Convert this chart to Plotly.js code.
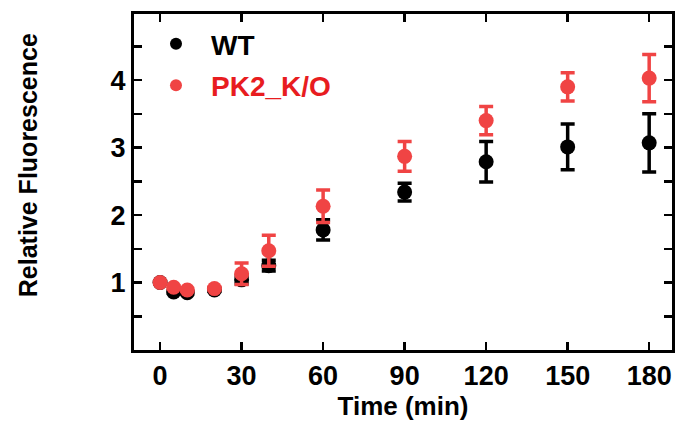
<!DOCTYPE html>
<html>
<head>
<meta charset="utf-8">
<script src="https://cdn.plot.ly/plotly-3.0.1.min.js"></script>
<style>html,body{margin:0;padding:0;background:#fff;}#chart{width:677px;height:427px;}</style>
</head>
<body>
<div id="chart"></div>
<script>
const time = [0, 5, 10, 20, 30, 40, 60, 90, 120, 150, 180];
const wtMean = [1.0, 0.86, 0.85, 0.89, 1.04, 1.25, 1.78, 2.34, 2.79, 3.01, 3.07];
const wtErr  = [0.02, 0.02, 0.02, 0.02, 0.06, 0.08, 0.15, 0.13, 0.30, 0.34, 0.43];
const koMean = [1.0, 0.93, 0.89, 0.91, 1.13, 1.47, 2.13, 2.87, 3.40, 3.90, 4.03];
const koErr  = [0.02, 0.02, 0.02, 0.02, 0.16, 0.23, 0.24, 0.22, 0.21, 0.21, 0.35];
const xTicks = [0, 30, 60, 90, 120, 150, 180];
const yTicks = [1, 2, 3, 4];

const RED = '#f04444';
const FONT = 'Liberation Sans, Arial, Helvetica, sans-serif';

const traces = [
  {
    x: time, y: wtMean, type: 'scatter', mode: 'markers', name: 'WT',
    legendgroup: 'a',
    marker: {color: '#000', size: 15},
    error_y: {type: 'data', array: wtErr, visible: true, color: '#000', thickness: 3.5, width: 7}
  },
  {
    x: time, y: koMean, type: 'scatter', mode: 'markers',
    name: '<span style="color:#e81c20">PK2_K/O</span>',
    legendgroup: 'b',
    marker: {color: RED, size: 15},
    error_y: {type: 'data', array: koErr, visible: true, color: RED, thickness: 3.5, width: 7}
  }
];

const layout = {
  width: 677, height: 427,
  margin: {l: 134, r: 5, t: 14, b: 77},
  paper_bgcolor: '#fff', plot_bgcolor: '#fff',
  font: {family: FONT, color: '#000', size: 24, weight: 'bold'},
  showlegend: true,
  legend: {
    x: 0.013, y: 0.985, xanchor: 'left', yanchor: 'top',
    bgcolor: 'rgba(0,0,0,0)', borderwidth: 0,
    font: {family: FONT, size: 28, color: '#000', weight: 'bold'},
    traceorder: 'grouped', tracegroupgap: 2, itemsizing: 'constant', itemwidth: 60
  },
  xaxis: {
    range: [-9.6, 188.4],
    tickvals: xTicks, ticktext: xTicks.map(String),
    ticks: 'inside', ticklen: 8, tickwidth: 2.5, tickcolor: '#000',
    showline: true, linewidth: 3, linecolor: '#000', mirror: 'ticks',
    showgrid: false, zeroline: false,
    tickfont: {family: FONT, size: 27, color: '#000', weight: 'bold'},
    title: {text: 'Time (min)', font: {family: FONT, size: 26, color: '#000', weight: 'bold'}, standoff: 6}
  },
  yaxis: {
    range: [0, 4.98],
    tickvals: yTicks, ticktext: yTicks.map(String),
    ticks: 'inside', ticklen: 8, tickwidth: 2.5, tickcolor: '#000',
    minor: {tickvals: [0.5, 1.5, 2.5, 3.5, 4.5], ticks: 'inside', ticklen: 8, tickwidth: 2.5, tickcolor: '#000'},
    showline: true, linewidth: 3, linecolor: '#000', mirror: 'ticks',
    showgrid: false, zeroline: false,
    tickfont: {family: FONT, size: 27, color: '#000', weight: 'bold'}
  },
  annotations: [{
    text: 'Relative Fluorescence', textangle: -90,
    xref: 'paper', yref: 'paper', x: -0.197, y: 0.55,
    xanchor: 'center', yanchor: 'middle', showarrow: false,
    font: {family: FONT, size: 25, color: '#000', weight: 'bold'}
  }]
};

Plotly.newPlot('chart', traces, layout, {displayModeBar: false, staticPlot: true});
</script>
</body>
</html>
